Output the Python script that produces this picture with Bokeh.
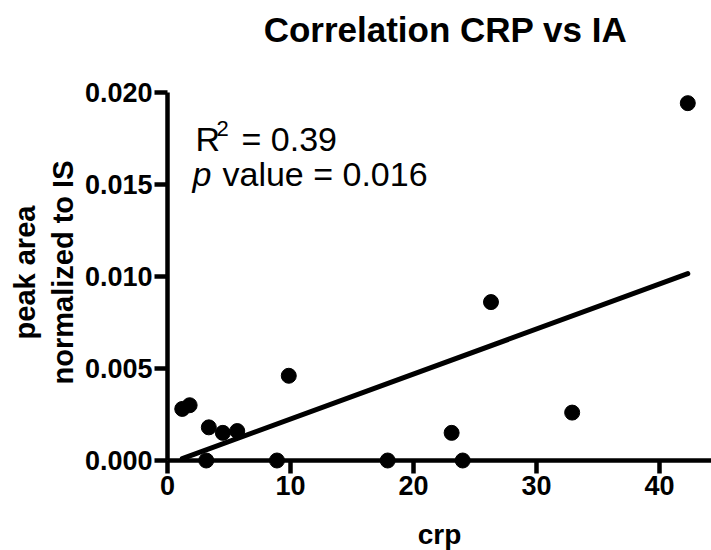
import numpy as np
from bokeh.plotting import figure
from bokeh.models import Range1d, FixedTicker, PrintfTickFormatter, Label
from bokeh.embed import file_html
from bokeh.resources import INLINE

# ---- data ----
crp = [1.2, 1.8, 3.15, 3.36, 4.5, 5.67, 8.9, 9.86, 17.9, 23.1, 24.0, 26.3, 32.9, 42.3]
peak_area = [0.0028, 0.0030, 0.0, 0.0018, 0.0015, 0.0016, 0.0, 0.0046,
             0.0, 0.0015, 0.0, 0.0086, 0.0026, 0.0194]
x_ticks = [0, 10, 20, 30, 40]
y_ticks = [0.0, 0.005, 0.010, 0.015, 0.020]
title_text = "Correlation CRP vs IA"
x_label = "crp"
y_label_lines = ["peak area", "normalized to IS"]
r2_text = "0.39"
p_text = "0.016"

# linear regression fit over the data range
slope, intercept = np.polyfit(crp, peak_area, 1)
fit_x = [min(crp), max(crp)]
fit_y = [slope * v + intercept for v in fit_x]

FONT = "Liberation Sans"

# the frame covers the whole canvas; axes are pinned at zero and bounded
p = figure(width=711, height=550, output_backend="svg", toolbar_location=None,
           title_location=None,
           x_range=Range1d(-13.577, 44.228), y_range=Range1d(-0.004886, 0.024973),
           min_border=0, min_border_left=0, min_border_right=0,
           min_border_top=0, min_border_bottom=0)

p.grid.visible = False
p.outline_line_color = None
p.background_fill_color = "white"
p.border_fill_color = "white"

p.xaxis.fixed_location = 0
p.yaxis.fixed_location = 0
p.xaxis.bounds = (0, 44.228)
p.yaxis.bounds = (0, 0.020)
p.xaxis.ticker = FixedTicker(ticks=x_ticks)
p.yaxis.ticker = FixedTicker(ticks=y_ticks)
p.yaxis.formatter = PrintfTickFormatter(format="%.3f")

for ax in (p.xaxis[0], p.yaxis[0]):
    ax.axis_line_width = 4.5
    ax.axis_line_color = "black"
    ax.major_tick_line_width = 4.5
    ax.major_tick_line_color = "black"
    ax.major_tick_out = 13
    ax.major_tick_in = 0
    ax.minor_tick_line_color = None
    ax.major_label_text_font = FONT
    ax.major_label_text_font_style = "bold"
    ax.major_label_text_font_size = "27px"
    ax.major_label_text_color = "black"
    ax.major_label_standoff = 2

p.xaxis.axis_label = x_label
p.xaxis.axis_label_text_font = FONT
p.xaxis.axis_label_text_font_style = "bold"
p.xaxis.axis_label_text_font_size = "28px"
p.xaxis.axis_label_text_color = "black"
p.xaxis.axis_label_standoff = 21

# regression line and points
p.line(fit_x, fit_y, line_width=5, line_color="black", line_cap="round")
p.scatter(crp, peak_area, size=15, fill_color="black", line_color="black")

# title
p.add_layout(Label(x=22.6, y=0.02338, text=title_text, text_align="center",
                   text_baseline="alphabetic", text_font=FONT,
                   text_font_style="bold", text_font_size="35px",
                   text_color="black"))

# y axis label (two lines, rotated)
for xpos, txt in zip([-11.6, -8.5], y_label_lines):
    p.add_layout(Label(x=xpos, y=0.010206, text=txt, angle=np.pi / 2,
                       text_align="center", text_baseline="middle",
                       text_font=FONT, text_font_style="bold",
                       text_font_size="29px", text_color="black"))

# statistics annotation
def lab(x, y, text, size="34px", style="normal"):
    p.add_layout(Label(x=x, y=y, text=text, text_align="left",
                       text_baseline="alphabetic", text_font=FONT,
                       text_font_style=style, text_font_size=size,
                       text_color="black"))

lab(2.28, 0.01745, "R")
lab(3.98, 0.01803, "2", size="22px")
lab(6.02, 0.01745, "= " + r2_text)
lab(2.03, 0.01553, "p", style="italic")
lab(4.47, 0.01553, "value = " + p_text)

open("out.html", "w").write(file_html(p, INLINE))
